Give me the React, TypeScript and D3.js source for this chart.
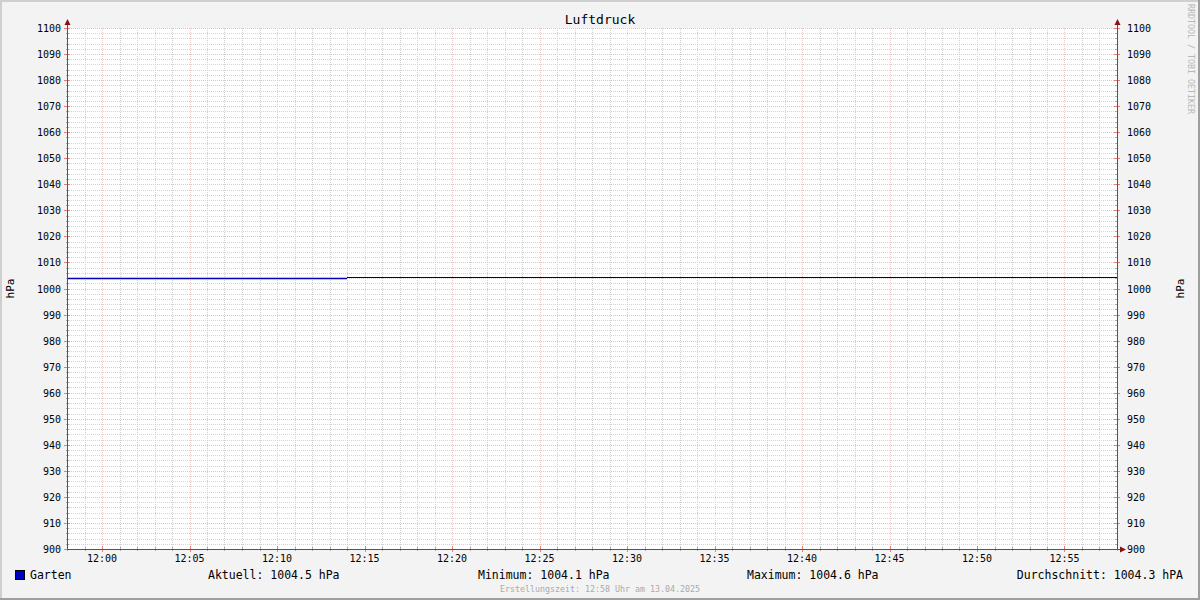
import { useEffect, useRef } from 'react'
import * as d3 from 'd3'

// Luftdruck – rrdtool style chart
const TITLE = 'Luftdruck'
const UNIT = 'hPa'
const SERIES_NAME = 'Garten'

// sample times (HH:MM on 13.04.2025) and values, step-after
const SAMPLE_TIMES = ['11:58', '12:14', '12:58']
const SAMPLE_VALUES = [1004.1, 1004.5, 1004.5]
const SEGMENT_COLORS = ['#0000b0', '#000060']

const Y_TICKS = [900, 910, 920, 930, 940, 950, 960, 970, 980, 990, 1000, 1010, 1020, 1030, 1040, 1050, 1060, 1070, 1080, 1090, 1100]
const X_TICK_LABELS = ['12:00', '12:05', '12:10', '12:15', '12:20', '12:25', '12:30', '12:35', '12:40', '12:45', '12:50', '12:55']

const LEGEND_STATS = [
  { label: 'Aktuell: 1004.5 hPa', x: 208 },
  { label: 'Minimum: 1004.1 hPa', x: 478 },
  { label: 'Maximum: 1004.6 hPa', x: 747 },
]
const LEGEND_AVG = 'Durchschnitt: 1004.3 hPA'
const FOOTER = 'Erstellungszeit: 12:58 Uhr am 13.04.2025'
const WATERMARK = 'RRDTOOL / TOBI OETIKER'

const W = 1200
const H = 600
const MONO = '"DejaVu Sans Mono", monospace'

const parseT = (s: string) => {
  const [h, m] = s.split(':').map(Number)
  return new Date(2025, 3, 13, h, m)
}

export default function App() {
  const svgRef = useRef<SVGSVGElement>(null)

  useEffect(() => {
    document.body.style.margin = '0'
    if (!svgRef.current) return
    const svg = d3.select(svgRef.current)
    svg.selectAll('*').remove()

    const plot = { left: 67, right: 1117, top: 28, bottom: 549 }
    const x = d3.scaleTime()
      .domain([parseT('11:58'), parseT('12:58')])
      .range([plot.left, plot.right])
    const y = d3.scaleLinear().domain([900, 1100]).range([plot.bottom, plot.top])

    // canvas + 3d border
    svg.append('rect').attr('width', W).attr('height', H).attr('fill', '#f3f3f3')
    svg.append('rect').attr('x', 0).attr('y', 0).attr('width', W).attr('height', 2).attr('fill', '#cfcfcf')
    svg.append('rect').attr('x', 0).attr('y', 0).attr('width', 2).attr('height', H).attr('fill', '#cfcfcf')
    svg.append('rect').attr('x', W - 2).attr('y', 0).attr('width', 2).attr('height', H).attr('fill', '#9e9e9e')
    svg.append('rect').attr('x', 0).attr('y', H - 2).attr('width', W).attr('height', 2).attr('fill', '#9e9e9e')

    svg.append('rect')
      .attr('x', plot.left).attr('y', plot.top)
      .attr('width', plot.right - plot.left).attr('height', plot.bottom - plot.top)
      .attr('fill', '#ffffff')

    const g = svg.append('g').attr('shape-rendering', 'crispEdges')

    // minor grid
    const minorY = d3.range(900, 1101, 2).filter((v) => v % 10 !== 0)
    minorY.forEach((v) => {
      const yy = Math.round(y(v)) + 0.5
      g.append('line').attr('x1', plot.left).attr('x2', plot.right).attr('y1', yy).attr('y2', yy)
        .attr('stroke', '#d4d4d4').attr('stroke-dasharray', '1,1')
    })
    const minorX = x.ticks(d3.timeMinute.every(1)!).filter((d) => d.getMinutes() % 5 !== 0)
    minorX.forEach((d) => {
      const xx = Math.round(x(d)) + 0.5
      g.append('line').attr('x1', xx).attr('x2', xx).attr('y1', plot.top).attr('y2', plot.bottom)
        .attr('stroke', '#d0d0d0').attr('stroke-dasharray', '1,1')
      g.append('line').attr('x1', xx).attr('x2', xx).attr('y1', plot.bottom - 2).attr('y2', plot.bottom + 2)
        .attr('stroke', '#aaaaaa')
    })

    // major grid
    Y_TICKS.forEach((v) => {
      const yy = Math.round(y(v)) + 0.5
      g.append('line').attr('x1', plot.left).attr('x2', plot.right).attr('y1', yy).attr('y2', yy)
        .attr('stroke', '#f0bcbc').attr('stroke-dasharray', '1,1')
      g.append('line').attr('x1', plot.left - 3).attr('x2', plot.left + 3).attr('y1', yy).attr('y2', yy)
        .attr('stroke', '#e08080')
      g.append('line').attr('x1', plot.right - 3).attr('x2', plot.right + 3).attr('y1', yy).attr('y2', yy)
        .attr('stroke', '#e08080')
    })
    minorY.forEach((v) => {
      const yy = Math.round(y(v)) + 0.5
      g.append('line').attr('x1', plot.left - 1).attr('x2', plot.left + 2).attr('y1', yy).attr('y2', yy)
        .attr('stroke', '#aaaaaa')
      g.append('line').attr('x1', plot.right - 2).attr('x2', plot.right + 1).attr('y1', yy).attr('y2', yy)
        .attr('stroke', '#aaaaaa')
    })
    X_TICK_LABELS.forEach((lab) => {
      const xx = Math.round(x(parseT(lab))) + 0.5
      g.append('line').attr('x1', xx).attr('x2', xx).attr('y1', plot.top).attr('y2', plot.bottom)
        .attr('stroke', '#e8cccc').attr('stroke-dasharray', '1,1')
      g.append('line').attr('x1', xx).attr('x2', xx).attr('y1', plot.bottom - 3).attr('y2', plot.bottom + 3)
        .attr('stroke', '#e08080')
    })

    // data line, step-after, each segment in its own colour
    const pts = SAMPLE_TIMES.map((t, i) => ({ t: parseT(t), v: SAMPLE_VALUES[i] }))
    const line = d3.line<{ t: Date; v: number }>()
      .x((d) => x(d.t))
      .y((d) => Math.round(y(d.v)) + 0.5)
    for (let i = 0; i < pts.length - 1; i++) {
      const seg = [pts[i], { t: pts[i + 1].t, v: pts[i].v }]
      g.append('path').datum(seg).attr('d', line)
        .attr('fill', 'none').attr('stroke', SEGMENT_COLORS[i % SEGMENT_COLORS.length])
        .attr('stroke-width', i === 0 ? 1.6 : 1.2)
        .attr('shape-rendering', 'auto')
    }

    // axes
    const axisColor = '#555555'
    g.append('line').attr('x1', plot.left + 0.5).attr('x2', plot.left + 0.5).attr('y1', plot.top - 6).attr('y2', plot.bottom + 1)
      .attr('stroke', axisColor)
    g.append('line').attr('x1', plot.right + 0.5).attr('x2', plot.right + 0.5).attr('y1', plot.top - 6).attr('y2', plot.bottom + 1)
      .attr('stroke', axisColor)
    g.append('line').attr('x1', plot.left).attr('x2', plot.right + 4).attr('y1', plot.bottom + 0.5).attr('y2', plot.bottom + 0.5)
      .attr('stroke', axisColor)

    const arrow = '#8b1010'
    ;[plot.left + 0.5, plot.right + 0.5].forEach((ax) => {
      svg.append('path')
        .attr('d', `M${ax - 3},${plot.top - 3} L${ax + 3},${plot.top - 3} L${ax},${plot.top - 9} Z`)
        .attr('fill', arrow)
    })
    svg.append('path')
      .attr('d', `M${plot.right + 3},${plot.bottom - 2.5} L${plot.right + 3},${plot.bottom + 3.5} L${plot.right + 9},${plot.bottom + 0.5} Z`)
      .attr('fill', arrow)

    const txt = (s: string, tx: number, ty: number, size: number, anchor = 'start', fill = '#000') =>
      svg.append('text').attr('x', tx).attr('y', ty).attr('text-anchor', anchor)
        .attr('font-family', MONO).attr('font-size', size).attr('fill', fill).text(s)

    Y_TICKS.forEach((v) => {
      txt(String(v), plot.left - 6, y(v) + 4, 10, 'end')
      txt(String(v), plot.right + 10, y(v) + 4, 10, 'start')
    })
    X_TICK_LABELS.forEach((lab) => {
      txt(lab, x(parseT(lab)), plot.bottom + 13, 10, 'middle')
    })

    txt(TITLE, W / 2, 24, 13, 'middle')

    const ymid = (plot.top + plot.bottom) / 2
    svg.append('text').attr('transform', `translate(14,${ymid}) rotate(-90)`)
      .attr('text-anchor', 'middle').attr('font-family', MONO).attr('font-size', 11).text(UNIT)
    svg.append('text').attr('transform', `translate(1184,${ymid}) rotate(-90)`)
      .attr('text-anchor', 'middle').attr('font-family', MONO).attr('font-size', 11).text(UNIT)

    svg.append('text').attr('transform', `translate(1188,4) rotate(90)`)
      .attr('text-anchor', 'start').attr('font-family', MONO).attr('font-size', 8.3)
      .attr('fill', '#b8b8b8').text(WATERMARK)

    // legend
    svg.append('rect').attr('x', 15.5).attr('y', 570.5).attr('width', 9).attr('height', 9)
      .attr('fill', '#0000c0').attr('stroke', '#000').attr('shape-rendering', 'crispEdges')
    txt(SERIES_NAME, 30, 579, 11.5)
    LEGEND_STATS.forEach((s) => txt(s.label, s.x, 579, 11.5))
    txt(LEGEND_AVG, 1183, 579, 11.5, 'end')

    txt(FOOTER, W / 2, 592, 8.3, 'middle', '#aaaaaa')
  }, [])

  return <svg ref={svgRef} width={W} height={H} style={{ display: 'block' }} />
}
